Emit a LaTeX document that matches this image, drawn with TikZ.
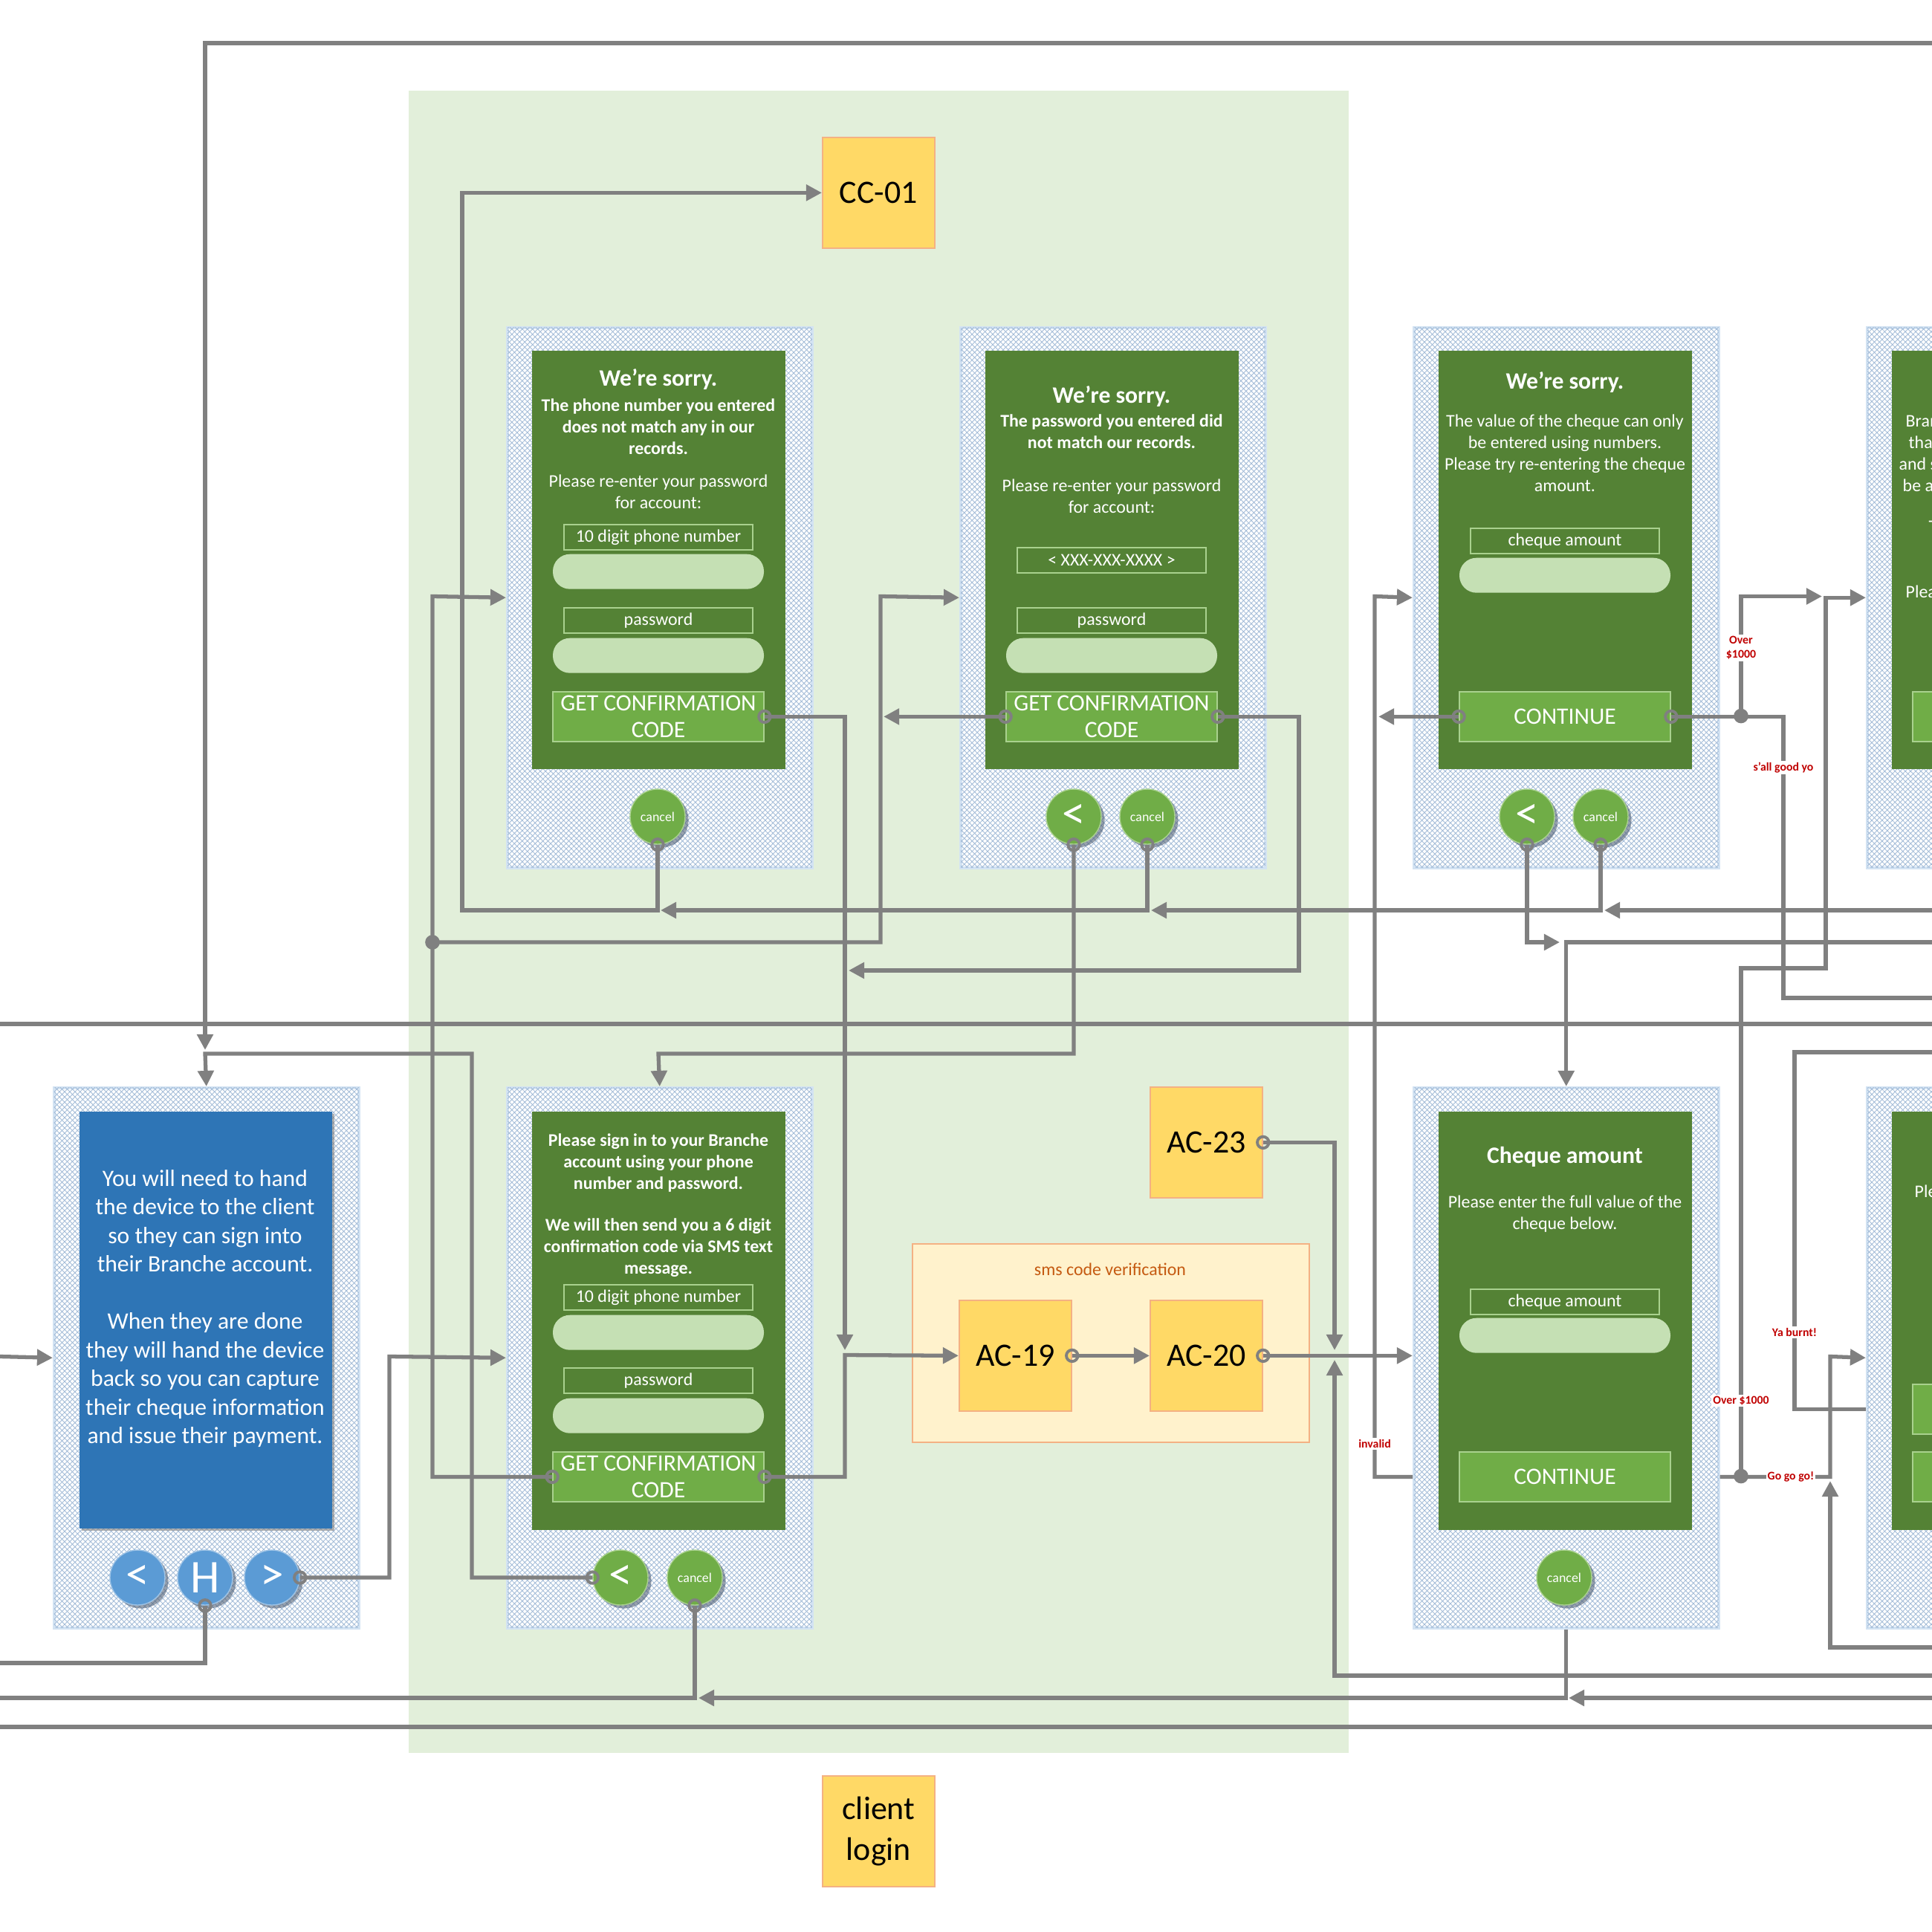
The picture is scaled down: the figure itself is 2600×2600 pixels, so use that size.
\documentclass[tikz,border=0pt]{standalone}
\usepackage{fontspec}
\setmainfont{Carlito}
\usetikzlibrary{arrows.meta,patterns.meta,shadows,calc}

\definecolor{lg}{HTML}{808080}
\definecolor{zonefill}{HTML}{E2EFDA}
\definecolor{scrgreen}{HTML}{548235}
\definecolor{btngreen}{HTML}{70AD47}
\definecolor{btnedge}{HTML}{A9D18E}
\definecolor{pillgreen}{HTML}{C5E0B4}
\definecolor{hatch}{HTML}{A3BCD8}
\definecolor{paneledge}{HTML}{D3E3F3}
\definecolor{scrblue}{HTML}{2E75B6}
\definecolor{navblue}{HTML}{5B9BD5}
\definecolor{navedge}{HTML}{9DC3E6}
\definecolor{ticket}{HTML}{FFD966}
\definecolor{ticketedge}{HTML}{F4B183}
\definecolor{groupfill}{HTML}{FFF2CC}
\definecolor{grouptext}{HTML}{C55A11}
\definecolor{warn}{HTML}{C00000}
\definecolor{shade}{HTML}{44546A}

\newcommand{\fBody}{\fontsize{6.8}{8.2}\selectfont}
\newcommand{\fTitle}{\fontsize{9}{10.8}\selectfont\bfseries}
\newcommand{\fBtn}{\fontsize{9}{10.2}\selectfont}
\newcommand{\fSmall}{\fontsize{5.1}{6}\selectfont}
\newcommand{\fSym}{\fontsize{18}{20}\selectfont}
\newcommand{\fInfo}{\fontsize{9}{10.95}\selectfont}
\newcommand{\fTicket}{\fontsize{12.5}{15.5}\selectfont}
\newcommand{\fTag}{\fontsize{4.5}{5.4}\selectfont\bfseries}

\begin{document}
\begin{tikzpicture}[x=0.1mm,y=-0.1mm,
  link/.style={draw=lg, line width=1.5pt},
  arrowend/.style={-{Triangle[length=6pt,width=6pt]}},
  ring/.style={draw=lg, line width=1.1pt},
  joint/.style={fill=lg},
  zonebox/.style={rectangle, inner sep=0, fill=zonefill, minimum width=126.5mm, minimum height=223.7mm},
  panel/.style={rectangle, inner sep=0, minimum width=41mm, minimum height=72.7mm,
    fill=white, draw=paneledge, line width=1pt,
    postaction={pattern={Lines[angle=45,distance=1.4pt,line width=0.25pt]}, pattern color=hatch},
    postaction={pattern={Lines[angle=-45,distance=1.4pt,line width=0.25pt]}, pattern color=hatch}},
  scr/.style={rectangle, inner sep=0, minimum width=34.1mm, minimum height=56.3mm, fill=scrgreen},
  lbl/.style={rectangle, inner sep=0, minimum width=25.4mm, minimum height=3.4mm, draw=btnedge, line width=0.5pt, text=white, font=\fBody},
  pill/.style={rectangle, rounded corners=2.3mm, inner sep=0, minimum width=28.4mm, minimum height=4.7mm, fill=pillgreen},
  btn/.style={rectangle, inner sep=0, minimum width=28.4mm, minimum height=6.7mm, fill=btngreen, draw=btnedge, line width=0.5pt, text=white, font=\fBtn, align=center},
  rbtn/.style={circle, inner sep=0, minimum size=7.4mm, fill=btngreen, draw=btnedge, line width=0.4pt, text=white,
    drop shadow={shadow xshift=1.3pt, shadow yshift=-1.3pt, fill=shade, opacity=.55}},
  nbtn/.style={rbtn, fill=navblue, draw=navedge, font=\fSym},
  txt/.style={text=white, align=center, inner sep=0},
  ticketbox/.style={rectangle, inner sep=0, minimum width=15.1mm, minimum height=14.9mm, fill=ticket, draw=ticketedge, line width=0.5pt, font=\fTicket, align=center},
  flowtag/.style={text=warn, font=\fTag, fill=white, inner sep=0.6pt, align=center}]

\useasboundingbox (0,0) rectangle (2600,2600);
\clip (0,0) rectangle (2600,2600);
\fill[white] (0,0) rectangle (2600,2600);

% ---------- client login zone ----------
\node[zonebox, anchor=north west] (zone) at (549,121) {};

% ---------- screen 1: phone number not found ----------
\node[panel, anchor=north west] (s1) at (681,439) {};
\node[scr, anchor=north west] (s1in) at (715,471) {};
\node[txt, font=\fTitle] (s1t) at (886,510) {We’re sorry.};
\node[txt, font=\fBody\bfseries] (s1m) at (886,574) {The phone number you entered\\does not match any in our\\records.};
\node[txt, font=\fBody] (s1r) at (886,662) {Please re-enter your password\\for account:};
\node[lbl, anchor=north] (s1l1) at (886,705) {10 digit phone number};
\node[pill, anchor=north] (s1p1) at (886,745) {};
\node[lbl, anchor=north] (s1l2) at (886,817) {password};
\node[pill, anchor=north] (s1p2) at (886,858) {};
\node[btn, anchor=north] (s1b) at (886,930) {GET CONFIRMATION\\CODE};
\node[rbtn, font=\fSmall] (s1x) at (885,1099) {cancel};

% ---------- screen 2: password mismatch ----------
\node[panel, anchor=north west] (s2) at (1291,439) {};
\node[scr, anchor=north west] (s2in) at (1325,471) {};
\node[txt, font=\fTitle] (s2t) at (1496,533) {We’re sorry.};
\node[txt, font=\fBody\bfseries] (s2m) at (1496,581) {The password you entered did\\not match our records.};
\node[txt, font=\fBody] (s2r) at (1496,668) {Please re-enter your password\\for account:};
\node[lbl, anchor=north] (s2l1) at (1496,736) {< XXX-XXX-XXXX >};
\node[lbl, anchor=north] (s2l2) at (1496,817) {password};
\node[pill, anchor=north] (s2p2) at (1496,858) {};
\node[btn, anchor=north] (s2b) at (1496,930) {GET CONFIRMATION\\CODE};
\node[rbtn, font=\fSym] (s2k) at (1445,1099) {<};
\node[rbtn, font=\fSmall] (s2x) at (1544,1099) {cancel};

% ---------- screen 3: cheque amount not numeric ----------
\node[panel, anchor=north west] (s3) at (1901,439) {};
\node[scr, anchor=north west] (s3in) at (1935,471) {};
\node[txt, font=\fTitle] (s3t) at (2106,514) {We’re sorry.};
\node[txt, font=\fBody] (s3m) at (2106,610) {The value of the cheque can only\\be entered using numbers.\\Please try re-entering the cheque\\amount.};
\node[lbl, anchor=north] (s3l1) at (2106,710) {cheque amount};
\node[pill, anchor=north] (s3p1) at (2106,750) {};
\node[btn, anchor=north] (s3b) at (2106,930) {CONTINUE};
\node[rbtn, font=\fSym] (s3k) at (2055,1099) {<};
\node[rbtn, font=\fSmall] (s3x) at (2154,1099) {cancel};

% ---------- screen 4 (right edge) ----------
\node[panel, anchor=north west] (s4) at (2511,439) {};
\node[scr, anchor=north west] (s4in) at (2545,471) {};
\node[txt, font=\fBody, anchor=west] (s4a) at (2564,567) {Bran};
\node[txt, font=\fBody, anchor=west] (s4b) at (2568,595) {tha};
\node[txt, font=\fBody, anchor=west] (s4c) at (2555,624) {and s};
\node[txt, font=\fBody, anchor=west] (s4d) at (2560,653) {be a};
\node[txt, font=\fBody, anchor=west] (s4e) at (2595,709) {T};
\node[txt, font=\fBody, anchor=west] (s4f) at (2564,796) {Plea};
\node[btn, anchor=north west] (s4btn) at (2573,930) {};

% ---------- screen 5: hand-over instructions ----------
\node[panel, anchor=north west] (s5) at (71,1462) {};
\node[rectangle, inner sep=0, minimum width=34mm, minimum height=56.1mm, fill=scrblue, anchor=north west,
  drop shadow={shadow xshift=1pt, shadow yshift=-1pt, fill=gray, opacity=.6}] (s5in) at (106,1495) {};
\node[txt, font=\fInfo] (s5m) at (276,1761) {You will need to hand\\the device to the client\\so they can sign into\\their Branche account.\\[10.95pt]When they are done\\they will hand the device\\back so you can capture\\their cheque information\\and issue their payment.};
\node[nbtn] (s5k) at (185,2123) {<};
\node[nbtn] (s5h) at (276,2123) {H};
\node[nbtn] (s5n) at (366,2123) {>};

% ---------- screen 6: sign in ----------
\node[panel, anchor=north west] (s6) at (681,1462) {};
\node[scr, anchor=north west] (s6in) at (715,1495) {};
\node[txt, font=\fBody\bfseries] (s6m) at (886,1565) {Please sign in to your Branche\\account using your phone\\number and password.};
\node[txt, font=\fBody\bfseries] (s6n) at (886,1679) {We will then send you a 6 digit\\confirmation code via SMS text\\message.};
\node[lbl, anchor=north] (s6l1) at (886,1728) {10 digit phone number};
\node[pill, anchor=north] (s6p1) at (886,1769) {};
\node[lbl, anchor=north] (s6l2) at (886,1840) {password};
\node[pill, anchor=north] (s6p2) at (886,1881) {};
\node[btn, anchor=north] (s6b) at (886,1953) {GET CONFIRMATION\\CODE};
\node[rbtn, font=\fSym] (s6k) at (835,2123) {<};
\node[rbtn, font=\fSmall] (s6x) at (935,2123) {cancel};

% ---------- screen 7: cheque amount ----------
\node[panel, anchor=north west] (s7) at (1901,1462) {};
\node[scr, anchor=north west] (s7in) at (1935,1495) {};
\node[txt, font=\fTitle] (s7t) at (2106,1557) {Cheque amount};
\node[txt, font=\fBody] (s7m) at (2106,1634) {Please enter the full value of the\\cheque below.};
\node[lbl, anchor=north] (s7l1) at (2106,1734) {cheque amount};
\node[pill, anchor=north] (s7p1) at (2106,1773) {};
\node[btn, anchor=north] (s7b) at (2106,1953) {CONTINUE};
\node[rbtn, font=\fSmall] (s7x) at (2105,2123) {cancel};

% ---------- screen 8 (right edge) ----------
\node[panel, anchor=north west] (s8) at (2511,1462) {};
\node[scr, anchor=north west] (s8in) at (2545,1495) {};
\node[txt, font=\fBody, anchor=west] (s8a) at (2576,1603) {Ple};
\node[btn, anchor=north west] (s8b1) at (2573,1862) {};
\node[btn, anchor=north west] (s8b2) at (2573,1953) {};

% ---------- process tickets ----------
\node[ticketbox, anchor=north west] (cc01) at (1106,184) {CC-01};
\node[ticketbox, anchor=north west] (login) at (1106,2389) {client\\login};
\node[ticketbox, anchor=north west] (ac23) at (1547,1462) {AC-23};
\node[rectangle, inner sep=0, minimum width=53.4mm, minimum height=26.7mm, fill=groupfill, draw=ticketedge, line width=0.5pt, anchor=north west] (sms) at (1227,1673) {};
\node[text=grouptext, font=\fBody, inner sep=0] (smst) at (1494,1708) {sms code verification};
\node[ticketbox, anchor=north west] (ac19) at (1290,1749) {AC-19};
\node[ticketbox, anchor=north west] (ac20) at (1547,1749) {AC-20};

% ---------- free ends at the picture border ----------
\coordinate (eTop) at (2600,58);
\coordinate (eCancel) at (2600,1225);
\coordinate (eBack) at (2600,1268);
\coordinate (eGood) at (2600,1343);
\coordinate (eBurnt) at (2600,1416);
\coordinate (eAlt) at (2600,2217);
\coordinate (eSide) at (2600,2255);
\coordinate (eQuit) at (2600,2285);
\coordinate (eIn) at (0,1825.5);
\coordinate (eHome) at (0,2238);
\coordinate (eExit) at (0,2285);
\coordinate (jL) at (582,1268);
\coordinate (jA) at (2343,963.5);
\coordinate (jB) at (2343,1986.5);

% ---------- connectors ----------
% through lines
\draw[link] (0,1378) -- (2600,1378);
\draw[link] (0,2324) -- (2600,2324);
% from the top into the hand-over screen
\draw[link,arrowend] (eTop) -| (276,1413);
\draw[link,arrowend] (s6k.west) -| (635,1418) -- (276,1418) -- (s5.north);
% cancel bus to CC-01
\draw[link,arrowend] (s1x.south) |- (622,1225) |- (cc01.west);
\draw[link,arrowend] (s2x.south) |- (889,1225);
\draw[link,arrowend] (s3x.south) |- (1549,1225);
\draw[link,arrowend] (eCancel) -- (2159,1225);
% sign in errors
\draw[link,arrowend] (s6b.west) -| (582,802.5) -- (s1.west);
\draw[link,arrowend] (jL) -| (1185,802.5) -- (s2.west);
\draw[link,arrowend] (s2b.west) -- ++(-164,0);
% confirmation code requests
\draw[link,arrowend] (s1b.east) -| (1137,1817);
\draw[link,arrowend] (s6b.east) -| (1137,1823.5) -- (ac19.west);
\draw[link,arrowend] (s2b.east) -| (1748,1306) -- (1142,1306);
\draw[link,arrowend] (s2k.south) |- (886,1418) -- (s6.north);
% sms verification
\draw[link,arrowend] (ac19.east) -- (ac20.west);
\draw[link,arrowend] (ac20.east) -- (s7.west |- ac20.east);
\draw[link,arrowend] (ac23.east) -| (1796,1817);
\draw[link,arrowend] (eSide) -| (1796,1830);
% cheque amount
\draw[link,arrowend] (s7.west |- s7b.west) -| (1850,802.5) -- (s3.west);
\draw[link,arrowend] (s3b.west) -- ++(-108,0);
\draw[link,arrowend] (s3k.south) |- (2099,1268);
\draw[link,arrowend] (eBack) -| (s7.north);
\draw[link] (s3b.east) -| (2400,1343) -- (eGood);
\draw[link,arrowend] (jA) |- (2452,802.5);
\draw[link,arrowend] (s7.east |- s7b.east) -| (2463,1825.5) -- (s8.west);
\draw[link,arrowend] (jB) |- (2457,1303) |- (s4.west);
\draw[link] (s8.west |- s8b1.west) -| (2415,1416) -- (eBurnt);
\draw[link,arrowend] (eAlt) -| (2463,1993);
% hand-over screen
\draw[link,arrowend] (eIn) -- (s5.west);
\draw[link,arrowend] (s5n.east) -| (524,1825.5) -- (s6.west);
\draw[link] (s5h.south) |- (eHome);
\draw[link] (s6x.south) |- (eExit);
\draw[link,arrowend] (s7.south) |- (940,2285);
\draw[link,arrowend] (eQuit) -- (2111,2285);

% junctions
\fill[joint] (jL) circle (2.8pt);
\fill[joint] (jA) circle (2.8pt);
\fill[joint] (jB) circle (2.8pt);

% connection points
\foreach \p in {s1b.east, s1x.south, s2b.west, s2b.east, s2k.south, s2x.south,
                s3b.west, s3b.east, s3k.south, s3x.south, s6b.west, s6b.east,
                s6k.west, s6x.south, s5n.east, s5h.south, ac19.east, ac20.east, ac23.east}
  \draw[ring] (\p) circle (2.2pt);

% decision labels
\node[flowtag] (t1) at (2343,872) {Over\\\$1000};
\node[flowtag] (t2) at (2400,1033) {s’all good yo};
\node[flowtag] (t3) at (1850,1943) {invalid};
\node[flowtag] (t4) at (2343,1885) {Over \$1000};
\node[flowtag] (t5) at (2415,1793) {Ya burnt!};
\node[flowtag] (t6) at (2410,1987) {Go go go!};

\end{tikzpicture}
\end{document}
